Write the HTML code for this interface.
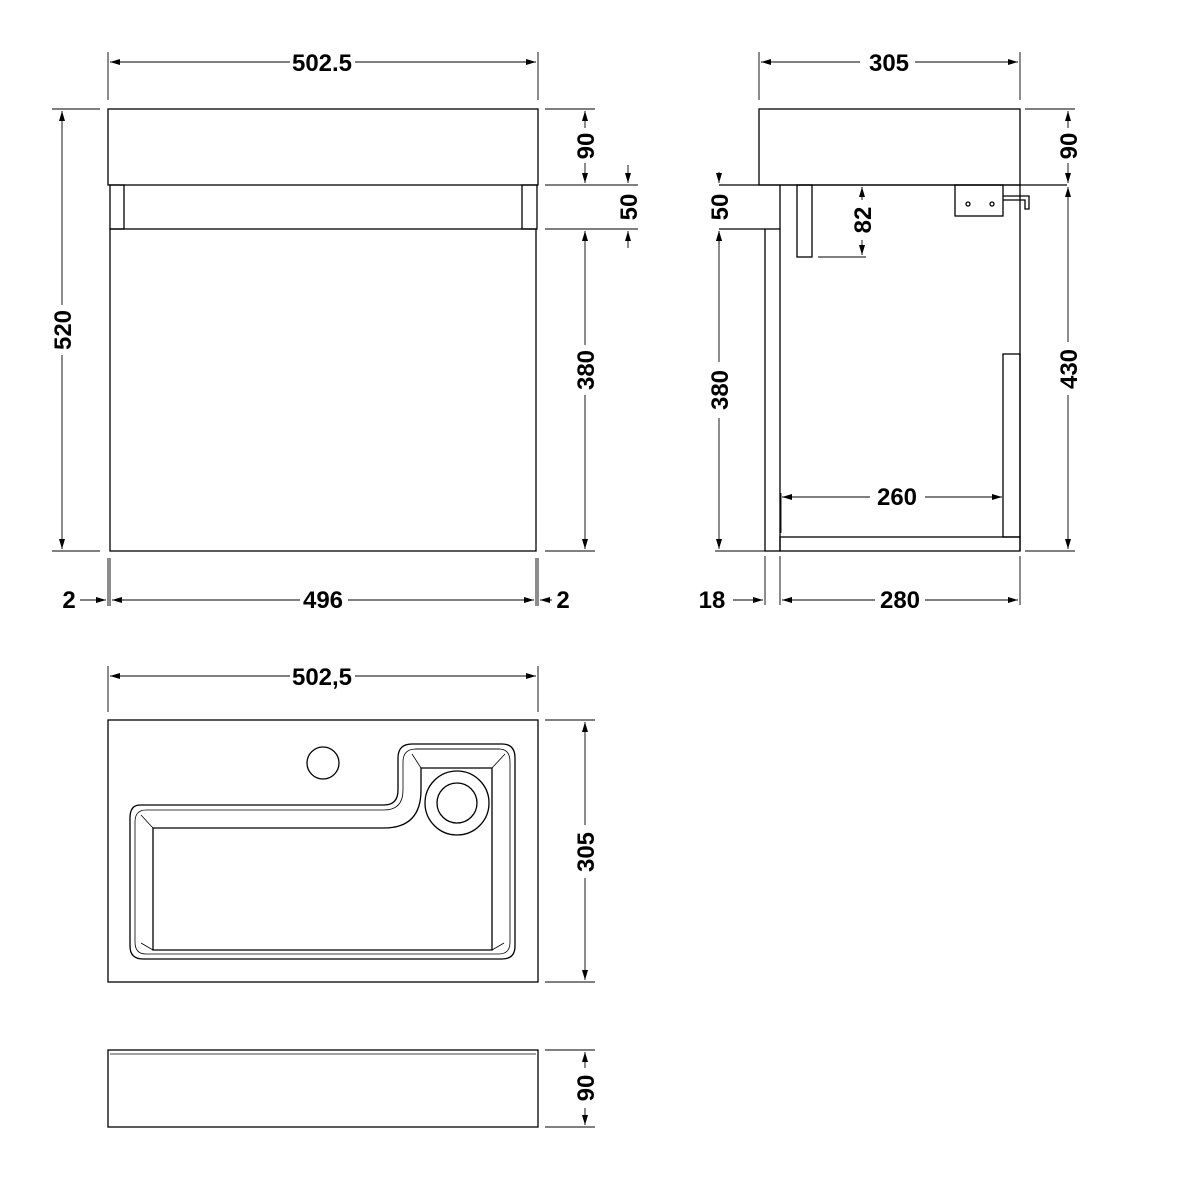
<!DOCTYPE html>
<html><head><meta charset="utf-8"><style>body{margin:0;background:#fff}svg{display:block}text{font-family:"Liberation Sans",sans-serif;font-weight:bold;font-size:24px;fill:#000}</style></head><body>
<svg width="1200" height="1200" viewBox="0 0 1200 1200" xmlns="http://www.w3.org/2000/svg">
<defs><marker id="a" viewBox="0 0 10 6" refX="10" refY="3" markerWidth="10" markerHeight="6" orient="auto-start-reverse" markerUnits="userSpaceOnUse"><path d="M0,0L10,3L0,6z" fill="#000"/></marker></defs>
<g fill="none" stroke="#000" stroke-width="1.3">
<rect x="108" y="109" width="430" height="76"/>
<rect x="110" y="185" width="14" height="44"/><rect x="522" y="185" width="15" height="44"/>
<rect x="110" y="229" width="426" height="322"/>
<g stroke-width="0.9">
<line x1="108" y1="52" x2="108" y2="100"/><line x1="538" y1="52" x2="538" y2="100"/>
<line x1="52" y1="109" x2="100" y2="109"/><line x1="52" y1="551" x2="100" y2="551"/>
<line x1="545" y1="109" x2="595" y2="109"/><line x1="545" y1="185" x2="638" y2="185"/><line x1="545" y1="229" x2="638" y2="229"/><line x1="545" y1="551" x2="595" y2="551"/>
<line x1="108" y1="558" x2="108" y2="606"/><line x1="110" y1="558" x2="110" y2="606"/><line x1="536" y1="558" x2="536" y2="606"/><line x1="538" y1="558" x2="538" y2="606"/>
<line x1="110" y1="62" x2="290" y2="62" marker-start="url(#a)"/><line x1="355" y1="62" x2="536" y2="62" marker-end="url(#a)"/>
<line x1="62" y1="111" x2="62" y2="305" marker-start="url(#a)"/><line x1="62" y1="355" x2="62" y2="549" marker-end="url(#a)"/>
<line x1="585" y1="111" x2="585" y2="128" marker-start="url(#a)"/><line x1="585" y1="163" x2="585" y2="183" marker-end="url(#a)"/>
<line x1="628" y1="165" x2="628" y2="183" marker-end="url(#a)"/><line x1="628" y1="248" x2="628" y2="231" marker-end="url(#a)"/>
<line x1="585" y1="231" x2="585" y2="345" marker-start="url(#a)"/><line x1="585" y1="395" x2="585" y2="549" marker-end="url(#a)"/>
<line x1="80" y1="600" x2="106" y2="600" marker-end="url(#a)"/>
<line x1="112" y1="600" x2="300" y2="600" marker-start="url(#a)"/><line x1="348" y1="600" x2="534" y2="600" marker-end="url(#a)"/>
<line x1="552" y1="600" x2="540" y2="600" marker-end="url(#a)"/>
</g>
<rect x="759" y="109" width="261" height="76"/>
<line x1="719" y1="185" x2="1067" y2="185"/>
<rect x="765" y="229" width="15" height="322"/>
<line x1="719" y1="229" x2="765" y2="229"/>
<line x1="780" y1="185" x2="780" y2="229"/>
<line x1="1020" y1="185" x2="1020" y2="551"/>
<rect x="797" y="185" width="15" height="72"/>
<rect x="955" y="185" width="48" height="31"/>
<circle cx="968" cy="204" r="2"/><circle cx="992" cy="204" r="2"/>
<path d="M1003,196H1029V209H1025V200H1003"/>
<rect x="1003" y="354" width="17" height="183"/>
<rect x="780" y="537" width="240" height="14"/>
<g stroke-width="0.9">
<line x1="759" y1="52" x2="759" y2="100"/><line x1="1020" y1="52" x2="1020" y2="100"/>
<line x1="761" y1="62" x2="860" y2="62" marker-start="url(#a)"/><line x1="915" y1="62" x2="1018" y2="62" marker-end="url(#a)"/>
<line x1="1025" y1="109" x2="1075" y2="109"/><line x1="1025" y1="551" x2="1075" y2="551"/>
<line x1="1068" y1="111" x2="1068" y2="128" marker-start="url(#a)"/><line x1="1068" y1="163" x2="1068" y2="183" marker-end="url(#a)"/>
<line x1="1068" y1="187" x2="1068" y2="342" marker-start="url(#a)"/><line x1="1068" y1="395" x2="1068" y2="549" marker-end="url(#a)"/>
<line x1="719" y1="172" x2="719" y2="183" marker-end="url(#a)"/><line x1="719" y1="244" x2="719" y2="231" marker-end="url(#a)"/>
<line x1="719" y1="231" x2="719" y2="362" marker-start="url(#a)"/><line x1="719" y1="418" x2="719" y2="549" marker-end="url(#a)"/>
<line x1="715" y1="551" x2="765" y2="551"/>
<line x1="818" y1="257" x2="866" y2="257"/>
<line x1="862" y1="187" x2="862" y2="200" marker-start="url(#a)"/><line x1="862" y1="240" x2="862" y2="255" marker-end="url(#a)"/>
<line x1="781" y1="493" x2="781" y2="533"/>
<line x1="782" y1="497" x2="870" y2="497" marker-start="url(#a)"/><line x1="925" y1="497" x2="1002" y2="497" marker-end="url(#a)"/>
<line x1="765" y1="556" x2="765" y2="605"/><line x1="780" y1="556" x2="780" y2="605"/><line x1="1020" y1="556" x2="1020" y2="605"/>
<line x1="733" y1="600" x2="763" y2="600" marker-end="url(#a)"/>
<line x1="782" y1="600" x2="875" y2="600" marker-start="url(#a)"/><line x1="925" y1="600" x2="1018" y2="600" marker-end="url(#a)"/>
</g>
<rect x="108" y="720" width="430" height="262"/>
<path d="M140,805H384Q398,805 398,790V758Q398,744 412,744H502Q515,744 515,758V946Q515,959 502,959H143Q130,959 130,946V818Q130,805 140,805Z"/>
<path d="M146,810H384Q403,810 403,790V762Q403,749 416,749H499Q510,749 510,762V942Q510,954 499,954H146Q135,954 135,942V822Q135,810 146,810Z" stroke-width="0.8"/>
<path d="M153,828H384Q421,828 421,790V768H492V950H153Z"/>
<path d="M153,828L141,815M421,768L412,754M492,768L505,754M492,950L504,943M153,950L141,943" stroke-width="0.8"/>
<line x1="415" y1="749" x2="500" y2="749" stroke-width="0.8"/>
<circle cx="457" cy="803" r="32"/><circle cx="457" cy="803" r="20"/>
<circle cx="323" cy="763" r="16"/>
<g stroke-width="0.9">
<line x1="108" y1="666" x2="108" y2="712"/><line x1="538" y1="666" x2="538" y2="712"/>
<line x1="110" y1="676" x2="290" y2="676" marker-start="url(#a)"/><line x1="355" y1="676" x2="536" y2="676" marker-end="url(#a)"/>
<line x1="545" y1="720" x2="595" y2="720"/><line x1="545" y1="982" x2="595" y2="982"/>
<line x1="585" y1="722" x2="585" y2="825" marker-start="url(#a)"/><line x1="585" y1="878" x2="585" y2="980" marker-end="url(#a)"/>
</g>
<rect x="108" y="1050" width="430" height="77"/>
<line x1="110" y1="1054" x2="536" y2="1054" stroke-width="0.8"/>
<g stroke-width="0.9">
<line x1="545" y1="1050" x2="595" y2="1050"/><line x1="545" y1="1127" x2="595" y2="1127"/>
<line x1="585" y1="1052" x2="585" y2="1068" marker-start="url(#a)"/><line x1="585" y1="1108" x2="585" y2="1125" marker-end="url(#a)"/>
</g>
</g>
<g>
<text x="322" y="71" text-anchor="middle">502.5</text>
<text transform="translate(71,330) rotate(-90)" text-anchor="middle">520</text>
<text transform="translate(594,146) rotate(-90)" text-anchor="middle">90</text>
<text transform="translate(637,207) rotate(-90)" text-anchor="middle">50</text>
<text transform="translate(594,370) rotate(-90)" text-anchor="middle">380</text>
<text x="69" y="608" text-anchor="middle">2</text>
<text x="323" y="608" text-anchor="middle">496</text>
<text x="563" y="608" text-anchor="middle">2</text>
<text x="889" y="71" text-anchor="middle">305</text>
<text transform="translate(1077,146) rotate(-90)" text-anchor="middle">90</text>
<text transform="translate(1077,369) rotate(-90)" text-anchor="middle">430</text>
<text transform="translate(728,207) rotate(-90)" text-anchor="middle">50</text>
<text transform="translate(728,390) rotate(-90)" text-anchor="middle">380</text>
<text transform="translate(871,220) rotate(-90)" text-anchor="middle">82</text>
<text x="897" y="505" text-anchor="middle">260</text>
<text x="712" y="608" text-anchor="middle">18</text>
<text x="900" y="608" text-anchor="middle">280</text>
<text x="322" y="685" text-anchor="middle">502,5</text>
<text transform="translate(594,852) rotate(-90)" text-anchor="middle">305</text>
<text transform="translate(594,1088) rotate(-90)" text-anchor="middle">90</text>
</g>
</svg>
</body></html>
